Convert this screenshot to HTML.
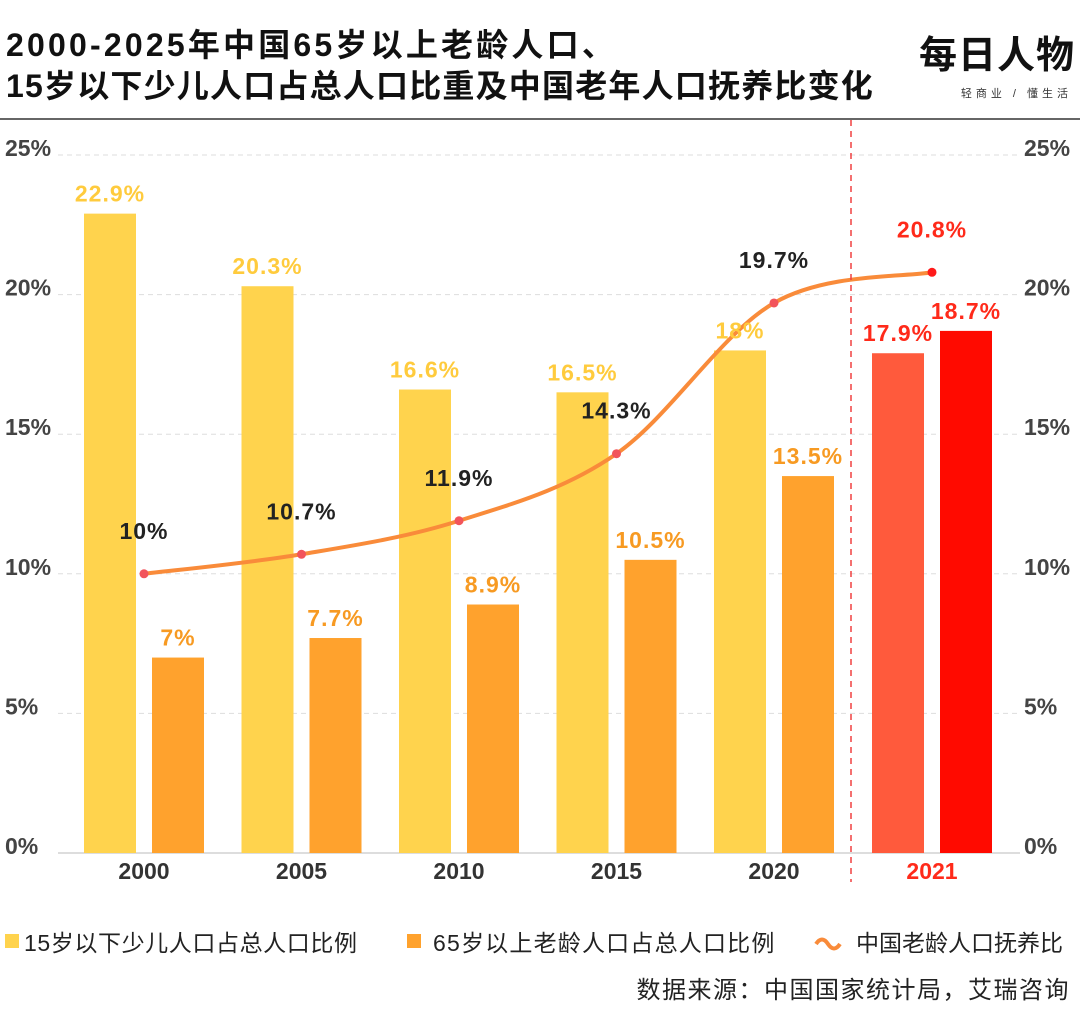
<!DOCTYPE html>
<html><head><meta charset="utf-8"><style>
html,body{margin:0;padding:0;background:#fff;}
body{width:1080px;height:1018px;overflow:hidden;font-family:"Liberation Sans","Noto Sans CJK SC",sans-serif;}
</style></head><body>
<svg id="chart" width="1080" height="1018" xmlns="http://www.w3.org/2000/svg" font-family="Liberation Sans, Noto Sans CJK SC, sans-serif">
<text x="6" y="56" font-size="32" font-weight="bold" fill="#111" letter-spacing="3.2">2000-2025年中国65岁以上老龄人口、</text>
<text x="6" y="97" font-size="32" font-weight="bold" fill="#111" letter-spacing="1.2">15岁以下少儿人口占总人口比重及中国老年人口抚养比变化</text>
<text x="1075" y="68" font-size="38" font-weight="bold" text-anchor="end" fill="#111" letter-spacing="1">每日人物</text>
<text x="1072" y="97" font-size="11" text-anchor="end" fill="#333" letter-spacing="4">轻商业 / 懂生活</text>
<line x1="0" y1="119" x2="1080" y2="119" stroke="#333" stroke-width="1.5"/>
<g id="grid"></g><g id="bars"></g><g id="line"></g><g id="labels"></g>
<line x1="851" y1="120" x2="851" y2="882" stroke="#f04040" stroke-width="1.5" stroke-dasharray="6,5"/>
<rect x="5" y="934" width="14" height="14" fill="#FFD34D"/>
<text x="24" y="951" font-size="23" fill="#222" letter-spacing="0.6">15岁以下少儿人口占总人口比例</text>
<rect x="407" y="934" width="14" height="14" fill="#FFA22D"/>
<text x="433" y="951" font-size="23" fill="#222" letter-spacing="1.2">65岁以上老龄人口占总人口比例</text>
<path d="M816 944 q6 -9 12 0 t12 0" fill="none" stroke="#F98B3A" stroke-width="4"/>
<text x="856" y="951" font-size="23" fill="#222">中国老龄人口抚养比</text>
<text x="1070" y="998" font-size="24" text-anchor="end" fill="#222" letter-spacing="1.5">数据来源：中国国家统计局，艾瑞咨询</text>
</svg>
<script>
const years=["2000","2005","2010","2015","2020","2021"];
const childShare=[22.9,20.3,16.6,16.5,18,17.9];
const elderShare=[7,7.7,8.9,10.5,13.5,18.7];
const dependency=[10,10.7,11.9,14.3,19.7,20.8];
const ticks=[0,5,10,15,20,25];
const ns="http://www.w3.org/2000/svg";
const y0=853,pxPer=27.92;
const Y=v=>y0-v*pxPer;
const X=i=>144+i*157.5+(i===5?0.5:0);
function mk(t,a,p){const e=document.createElementNS(ns,t);for(const k in a)e.setAttribute(k,a[k]);p.appendChild(e);return e;}
const grid=document.getElementById('grid'),bars=document.getElementById('bars'),lineG=document.getElementById('line'),lab=document.getElementById('labels');
const vfont={'font-size':23,'font-weight':'bold','text-anchor':'middle','letter-spacing':1};
function vt(x,y,fill){return Object.assign({x:x,y:y,fill:fill},vfont);}
ticks.forEach(t=>{
 const l=mk('line',{x1:58,x2:1020,y1:Y(t),y2:Y(t),stroke:'#ddd','stroke-dasharray':'5,4'},grid);
 
 
 const a=mk('text',{x:5,y:Y(t)+1,'font-size':23,'font-weight':'bold',fill:'#444'},grid);a.textContent=t+'%';
 
 
 const b=mk('text',{x:1024,y:Y(t)+1,'font-size':23,'font-weight':'bold',fill:'#444'},grid);b.textContent=t+'%';
 
 
});
mk('line',{x1:58,x2:1020,y1:y0,y2:y0,stroke:'#bbb'},grid);
years.forEach((yr,i)=>{
 const c=X(i),last=i===5;
 const r1=mk('rect',{x:c-60,y:Y(childShare[i]),width:52,height:childShare[i]*pxPer,fill:last?'#FF5A3C':'#FFD34D'},bars);
 
 
 const r2=mk('rect',{x:c+8,y:Y(elderShare[i]),width:52,height:elderShare[i]*pxPer,fill:last?'#FF0A00':'#FFA22D'},bars);
 
 
 const t1=mk('text',vt(c-34,Y(childShare[i])-12,last?'#FF2A1A':'#FFCB3D'),lab);t1.textContent=childShare[i]+'%';
 
 
 const t2=mk('text',vt(c+34,Y(elderShare[i])-12,last?'#FF2A1A':'#F79A22'),lab);t2.textContent=elderShare[i]+'%';
 
 
 const xl=mk('text',{x:c,y:879,'font-size':23,'font-weight':'bold','text-anchor':'middle',fill:last?'#FF2A1A':'#333'},lab);xl.textContent=yr;
 
 
});
const pts=dependency.map((v,i)=>[X(i),Y(v)]);
let d='M'+pts[0][0]+' '+pts[0][1];
for(let i=0;i<pts.length-1;i++){
 const p0=pts[i-1]||pts[i],p1=pts[i],p2=pts[i+1],p3=pts[i+2]||p2;
 const c1=[p1[0]+(p2[0]-p0[0])/6,p1[1]+(p2[1]-p0[1])/6],c2=[p2[0]-(p3[0]-p1[0])/6,p2[1]-(p3[1]-p1[1])/6];
 d+=` C${c1[0]} ${c1[1]} ${c2[0]} ${c2[1]} ${p2[0]} ${p2[1]}`;
}
const path=mk('path',{d:d,fill:'none',stroke:'#F98B3A','stroke-width':4},lineG);


dependency.forEach((v,i)=>{
 const last=i===5;
 const c=mk('circle',{cx:X(i),cy:Y(v),r:4.5,fill:last?'#FF1A1A':'#F2545B'},lineG);
 
 
 const t=mk('text',vt(X(i),Y(v)-35,last?'#FF2A1A':'#222'),lab);t.textContent=v+'%';
 
 
});
</script>
</body></html>
